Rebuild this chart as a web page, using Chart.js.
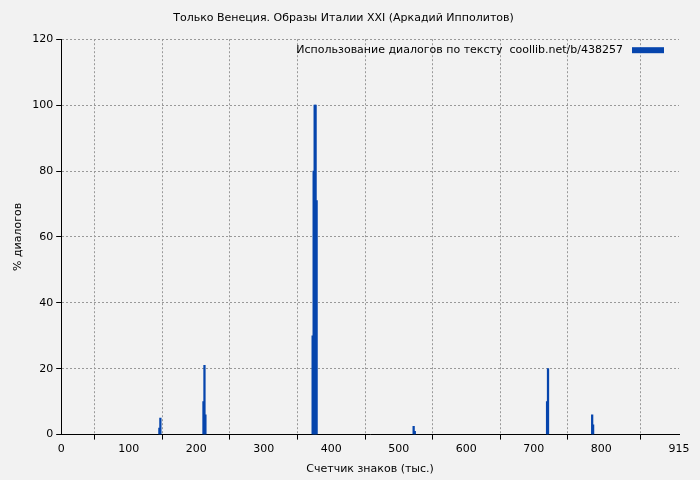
<!DOCTYPE html>
<html><head><meta charset="utf-8">
<script src="https://cdn.jsdelivr.net/npm/chart.js@4"></script>
<style>body{margin:0;background:#f2f2f2}#wrap{width:700px;height:480px}</style>
</head><body><div id="wrap"><canvas id="c"></canvas></div>
<script>
const positions = [145.4, 146.9, 210.7, 212.2, 213.6, 372.4, 373.9, 375.4, 376.8, 378.3, 522, 523.7, 719.6, 721, 786.4, 787.8];
const percents = [2, 5, 10, 21, 6, 30, 80, 100, 100, 71, 2.5, 1, 10, 20, 6, 3];
const xStep = 100;
const yStep = 20;
const legendText = 'Использование диалогов по тексту  coollib.net/b/438257';
const blue = '#0645ad';

const insideLegend = {
  id: 'insideLegend',
  afterDraw(chart){
    const {ctx, chartArea} = chart;
    ctx.save();
    ctx.font = '11px "DejaVu Sans"';
    ctx.fillStyle = '#000';
    ctx.textAlign = 'right';
    ctx.textBaseline = 'middle';
    ctx.fillText(legendText, chartArea.right - 56, chartArea.top + 11);
    ctx.fillStyle = blue;
    ctx.fillRect(chartArea.right - 47, chartArea.top + 8, 32, 6);
    ctx.restore();
  }
};
const bgPlugin = {
  id: 'bg',
  beforeDraw(chart){
    const ctx = chart.ctx;
    ctx.save(); ctx.fillStyle = '#f2f2f2'; ctx.fillRect(0, 0, chart.width, chart.height); ctx.restore();
  }
};

new Chart(document.getElementById('c'), {
  type: 'bar',
  data: {
    datasets: [{
      label: legendText,
      data: positions.map((x, i) => ({x: x, y: percents[i]})),
      backgroundColor: blue,
      barThickness: 1.6,
      grouped: false
    }]
  },
  options: {
    responsive: true, maintainAspectRatio: false, animation: false,
    layout: {padding: {left: 8, right: 21, top: 4, bottom: 0}},
    scales: {
      x: {
        type: 'linear', min: 0, max: 915, offset: false,
        grid: {color: '#999', tickColor: '#000', tickLength: 5},
        border: {color: '#000', dash: [2, 2]},
        ticks: {stepSize: xStep, color: '#000', font: {family: 'DejaVu Sans', size: 11}},
        title: {display: true, text: 'Счетчик знаков (тыс.)', color: '#000', font: {family: 'DejaVu Sans', size: 11}}
      },
      y: {
        min: 0, max: 120,
        grid: {color: '#999', tickColor: '#000', tickLength: 5},
        border: {color: '#000', dash: [2, 2]},
        ticks: {stepSize: yStep, color: '#000', font: {family: 'DejaVu Sans', size: 11}},
        title: {display: true, text: '% диалогов', color: '#000', font: {family: 'DejaVu Sans', size: 11}}
      }
    },
    plugins: {
      legend: {display: false},
      tooltip: {enabled: false},
      title: {display: true, text: 'Только Венеция. Образы Италии XXI (Аркадий Ипполитов)', color: '#000',
        font: {family: 'DejaVu Sans', size: 11, weight: 'normal'}, padding: {top: 8, bottom: 14}}
    }
  },
  plugins: [bgPlugin, insideLegend]
});
</script></body></html>
